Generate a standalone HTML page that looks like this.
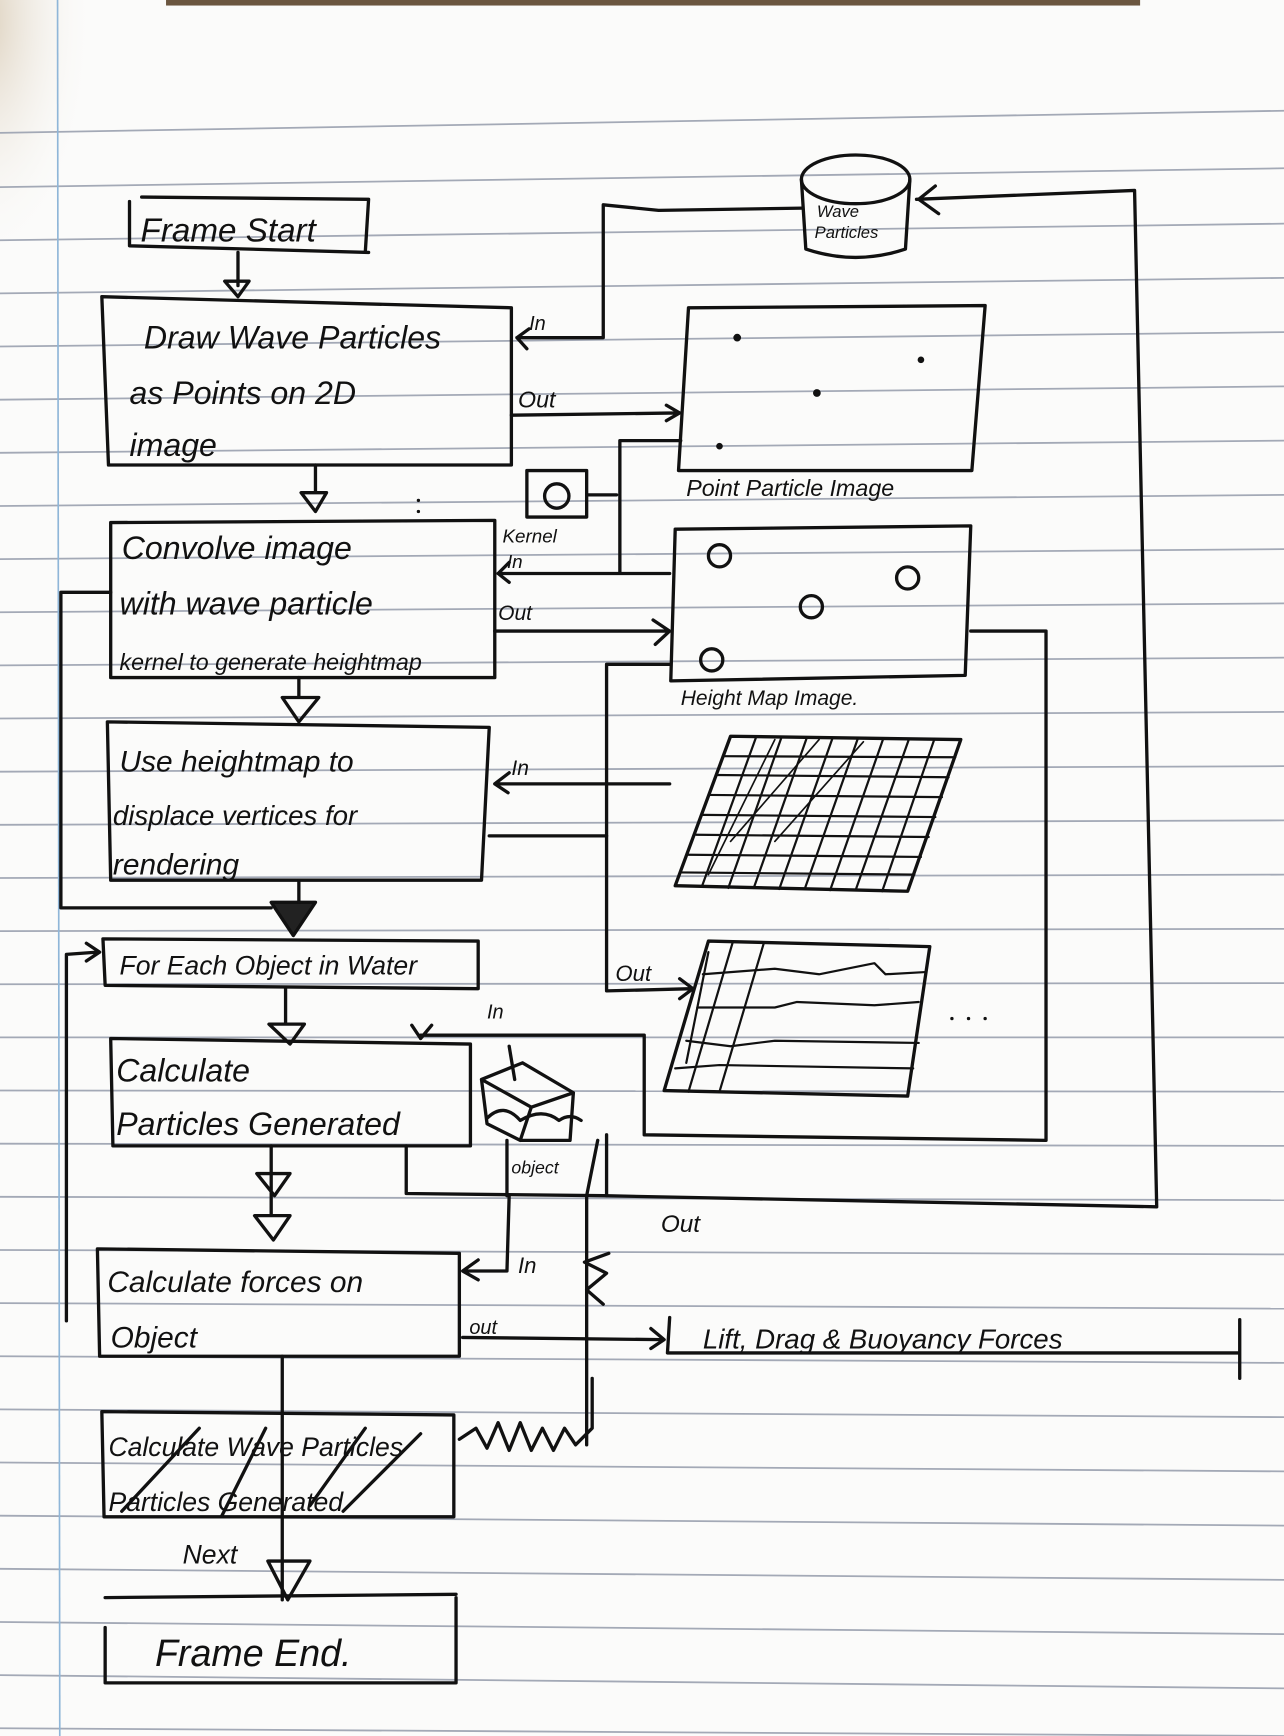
<!DOCTYPE html>
<html><head><meta charset="utf-8"><style>
html,body{margin:0;padding:0;background:#fbfbfa;}
svg{display:block}
text{font-family:"Liberation Sans",sans-serif;fill:#111;}
</style></head><body>
<svg width="1284" height="1736" viewBox="0 0 1160 1568" preserveAspectRatio="none" xmlns="http://www.w3.org/2000/svg">
<defs>
<radialGradient id="sm" cx="0.3" cy="0.3" r="0.7">
<stop offset="0" stop-color="#d9cbb5" stop-opacity="0.9"/>
<stop offset="1" stop-color="#fbfbfa" stop-opacity="0"/>
</radialGradient>
</defs>
<rect width="1160" height="1568" fill="#fbfbfa"/>
<rect x="150" y="0" width="880" height="5" fill="#6b5640"/>
<ellipse cx="15" cy="80" rx="70" ry="160" fill="url(#sm)"/>
<g stroke="#a3a9b6" stroke-width="1.6" fill="none">
<line x1="0" y1="120" x2="1160" y2="100"/>
<line x1="0" y1="169" x2="1160" y2="152"/>
<line x1="0" y1="217" x2="1160" y2="202"/>
<line x1="0" y1="265" x2="1160" y2="251"/>
<line x1="0" y1="313" x2="1160" y2="300"/>
<line x1="0" y1="361" x2="1160" y2="349"/>
<line x1="0" y1="409" x2="1160" y2="398"/>
<line x1="0" y1="457" x2="1160" y2="447"/>
<line x1="0" y1="505" x2="1160" y2="496"/>
<line x1="0" y1="553" x2="1160" y2="545"/>
<line x1="0" y1="601" x2="1160" y2="594"/>
<line x1="0" y1="649" x2="1160" y2="643"/>
<line x1="0" y1="697" x2="1160" y2="692"/>
<line x1="0" y1="745" x2="1160" y2="741"/>
<line x1="0" y1="793" x2="1160" y2="790"/>
<line x1="0" y1="841" x2="1160" y2="839"/>
<line x1="0" y1="889" x2="1160" y2="888"/>
<line x1="0" y1="937" x2="1160" y2="937"/>
<line x1="0" y1="985" x2="1160" y2="986"/>
<line x1="0" y1="1033" x2="1160" y2="1035"/>
<line x1="0" y1="1081" x2="1160" y2="1084"/>
<line x1="0" y1="1129" x2="1160" y2="1133"/>
<line x1="0" y1="1177" x2="1160" y2="1182"/>
<line x1="0" y1="1225" x2="1160" y2="1231"/>
<line x1="0" y1="1273" x2="1160" y2="1280"/>
<line x1="0" y1="1321" x2="1160" y2="1329"/>
<line x1="0" y1="1369" x2="1160" y2="1378"/>
<line x1="0" y1="1417" x2="1160" y2="1427"/>
<line x1="0" y1="1465" x2="1160" y2="1476"/>
<line x1="0" y1="1513" x2="1160" y2="1525"/>
<line x1="0" y1="1561" x2="1160" y2="1568"/>
</g>
<line x1="52" y1="0" x2="54" y2="1568" stroke="#8fb6d8" stroke-width="1.5"/>

<g stroke="#111" stroke-width="3" fill="none" stroke-linejoin="round" stroke-linecap="round">
<path d="M117,182 L117,222 L333,228 M128,178 L333,180 L330,228"/>
<path d="M215,228 L215,258 M203,254 L225,254 L215,268 Z"/>
<path d="M92,268 L462,278 L462,420 L98,420 Z"/>
<path d="M285,420 L285,445 M272,445 L295,445 L285,462 Z"/>
<ellipse cx="773" cy="162" rx="49" ry="22"/>
<path d="M724,162 L728,225 Q773,240 818,225 L822,162"/>
<path d="M725,188 L595,190 L545,185 L545,305 L467,305 M478,297 L467,305 L476,315"/>
<path d="M828,180 L1025,172 L1045,1090 L545,1080 L367,1078 L367,1035"/>
<path d="M845,168 L830,180 L848,193"/>
<path d="M462,375 L612,373 M602,366 L614,373 L602,380"/>
<path d="M622,278 L890,276 L878,425 L613,425 Z"/>
<path d="M476,425 L530,425 L530,467 L476,467 Z"/>
<circle cx="503" cy="448" r="11"/>
<path d="M530,447 L557,447 M560,398 L615,398 M560,398 L560,518 M450,518 L605,518 M460,508 L450,518 L460,526"/>
<path d="M100,472 L447,470 L447,612 L100,612 Z"/>
<path d="M447,570 L603,570 M590,560 L605,570 L592,582"/>
<path d="M270,612 L270,630 M255,630 L288,630 L270,652 Z"/>
<path d="M610,478 L877,475 L872,610 L606,615 Z"/>
<circle cx="650" cy="502" r="10"/><circle cx="820" cy="522" r="10"/>
<circle cx="733" cy="548" r="10"/><circle cx="643" cy="596" r="10"/>
<path d="M877,570 L945,570 L945,1030 L582,1025 L582,935 L380,935 L380,938 M372,926 L380,938 L390,926"/>
<path d="M605,600 L548,600 L548,895 L625,893 M614,884 L626,893 L614,902"/>
<path d="M605,708 L447,708 M460,698 L447,708 L459,716"/>
<path d="M442,755 L548,755"/>
<path d="M100,535 L55,535 L55,820 L245,820"/>
<path d="M97,652 L442,657 L435,795 L100,795 Z"/>
<path d="M245,815 L285,815 L265,845 Z" fill="#222"/>
<path d="M270,795 L270,815"/>
<path d="M93,848 L432,850 L432,893 L95,890 Z"/>
<path d="M60,1193 L60,862 L88,860 M78,852 L90,860 L78,868"/>
<path d="M258,893 L258,925 M243,925 L275,925 L262,943 Z"/>
<path d="M100,938 L425,943 L425,1035 L102,1035 Z"/>
<path d="M435,975 L472,960 L518,987 L480,1000 Z M435,975 L440,1015 L470,1030 L480,1000 M518,987 L515,1030 L470,1030"/>
<path d="M440,1010 Q455,995 470,1012 Q490,1000 505,1012 Q515,1005 525,1012"/>
<path d="M458,1030 L458,1080 M548,1025 L548,1080 M460,945 L465,975"/>
<path d="M245,1035 L245,1098 M230,1098 L262,1098 L247,1120 Z M232,1060 L262,1060 L248,1080 Z"/>
<path d="M460,1080 L458,1148 L420,1148 M432,1138 L418,1148 L432,1156"/>
<path d="M540,1030 L530,1080 L530,1305"/>
<path d="M550,1132 L528,1140 L548,1150 L530,1165 L545,1178"/>
<path d="M88,1128 L415,1132 L415,1225 L90,1225 Z"/>
<path d="M418,1208 L598,1210 M588,1200 L600,1210 L588,1218"/>
<path d="M605,1190 L603,1222 L1120,1222 M1120,1192 L1120,1245"/>
<path d="M255,1225 L255,1445"/>
<path d="M92,1275 L410,1278 L410,1370 L94,1370 Z"/>
<path d="M110,1365 L180,1290 M200,1370 L240,1290 M280,1360 L330,1290 M310,1365 L380,1295"/>
<path d="M415,1300 L430,1290 L440,1308 L450,1285 L460,1310 L470,1285 L480,1310 L490,1290 L500,1310 L510,1290 L520,1305 L535,1290 L535,1245"/>
<path d="M242,1410 L280,1410 L260,1445 Z"/>
<path d="M95,1443 L412,1440 M95,1470 L95,1520 M412,1443 L412,1520 L96,1520"/>
<path d="M660,665 L868,668 L820,805 L610,800 Z"/>
<path d="M653,683 L863,684 M647,700 L857,702 M641,718 L851,720 M635,736 L845,738 M629,754 L839,756 M622,772 L832,774 M616,788 L826,790" stroke-width="2"/>
<path d="M683,666 L634,801 M706,666 L658,802 M729,666 L681,802 M752,667 L704,803 M775,667 L727,803 M798,667 L750,804 M821,668 L773,804 M844,668 L797,805" stroke-width="2"/>
<path d="M700,668 L640,790 M740,668 L660,760 M780,670 L700,760" stroke-width="1.5"/>
<path d="M640,850 L840,855 L820,990 L600,985 Z"/>
<path d="M635,880 L700,875 L740,880 L790,870 L800,880 L836,878 M630,910 L700,910 L720,905 L790,908 L830,905 M620,940 L660,945 L700,940 L830,942 M610,965 L650,962 L825,965" stroke-width="2"/>
<path d="M662,851 L622,986 M690,852 L650,986 M640,860 L620,960" stroke-width="2"/>
</g>
<g fill="#111">
<circle cx="666" cy="305" r="3.5"/><circle cx="832" cy="325" r="3"/>
<circle cx="738" cy="355" r="3.5"/><circle cx="650" cy="403" r="3"/>
<circle cx="378" cy="452" r="1.5"/><circle cx="378" cy="462" r="1.5"/>
<circle cx="860" cy="920" r="1.5"/><circle cx="875" cy="920" r="1.5"/><circle cx="890" cy="920" r="1.5"/>
</g>

<g font-style="italic">
<text x="127" y="218" font-size="30">Frame Start</text>
<text x="130" y="315" font-size="29">Draw Wave Particles</text>
<text x="117" y="365" font-size="29">as Points on 2D</text>
<text x="117" y="412" font-size="29">image</text>
<text x="478" y="298" font-size="18">In</text>
<text x="468" y="368" font-size="21">Out</text>
<text x="738" y="196" font-size="15">Wave</text>
<text x="736" y="215" font-size="15">Particles</text>
<text x="620" y="448" font-size="21">Point Particle Image</text>
<text x="454" y="490" font-size="17">Kernel</text>
<text x="458" y="513" font-size="17">In</text>
<text x="110" y="505" font-size="29">Convolve image</text>
<text x="108" y="555" font-size="29">with wave particle</text>
<text x="108" y="605" font-size="21">kernel to generate heightmap</text>
<text x="450" y="560" font-size="19">Out</text>
<text x="615" y="637" font-size="19">Height Map Image.</text>
<text x="108" y="697" font-size="27">Use heightmap to</text>
<text x="102" y="745" font-size="25">displace vertices for</text>
<text x="102" y="790" font-size="27">rendering</text>
<text x="462" y="700" font-size="19">In</text>
<text x="556" y="886" font-size="20">Out</text>
<text x="108" y="880" font-size="24">For Each Object in Water</text>
<text x="440" y="920" font-size="18">In</text>
<text x="105" y="977" font-size="29">Calculate</text>
<text x="105" y="1025" font-size="29">Particles Generated</text>
<text x="462" y="1060" font-size="16">object</text>
<text x="597" y="1113" font-size="22">Out</text>
<text x="97" y="1167" font-size="27">Calculate forces on</text>
<text x="100" y="1217" font-size="27">Object</text>
<text x="468" y="1150" font-size="20">In</text>
<text x="424" y="1205" font-size="18">out</text>
<text x="635" y="1218" font-size="25">Lift, Drag &amp; Buoyancy Forces</text>
<text x="98" y="1315" font-size="24">Calculate Wave Particles</text>
<text x="98" y="1365" font-size="24">Particles Generated</text>
<text x="165" y="1412" font-size="24">Next</text>
<text x="140" y="1505" font-size="34">Frame End.</text>
</g>
</svg>
</body></html>
